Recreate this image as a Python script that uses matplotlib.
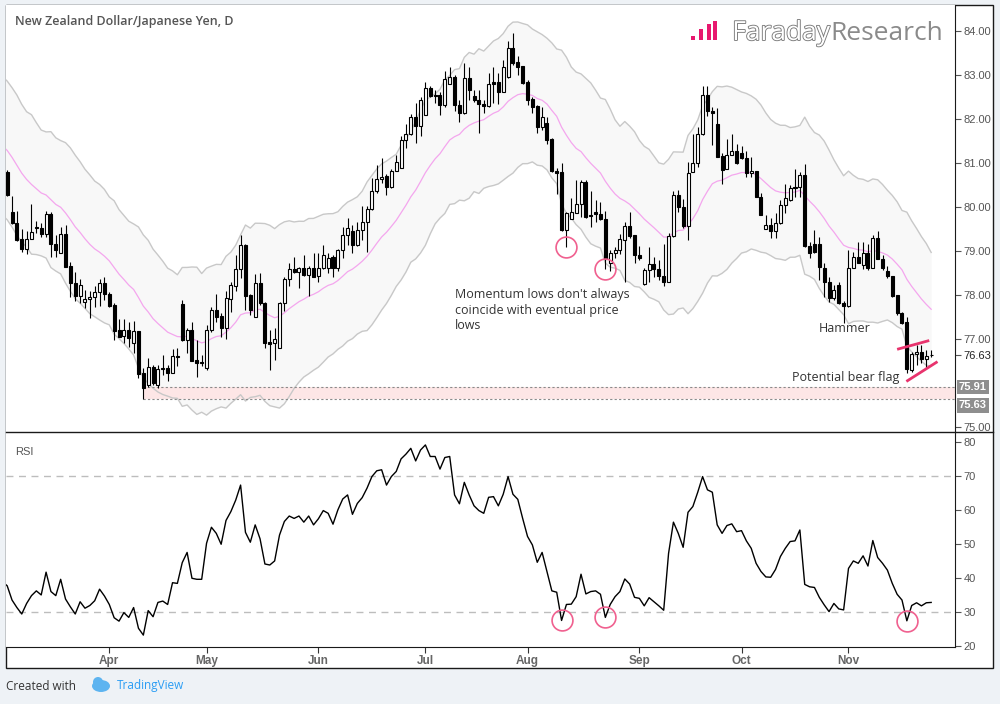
import numpy as np
import pandas as pd
import matplotlib
matplotlib.use("Agg")
import matplotlib.pyplot as plt
import matplotlib.patheffects as pe
import matplotlib.transforms as mtransforms
from matplotlib.patches import Rectangle, Ellipse
from matplotlib.lines import Line2D

# NZD/JPY daily bars, 2 Mar - 24 Nov 2017
dates = pd.bdate_range("2017-03-02", "2017-11-24")

opens = [81.05, 80.81, 79.90, 79.65, 79.28, 79.06, 79.27, 79.56, 79.52, 79.39,
         79.84, 79.17, 78.95, 79.39, 78.67, 78.27, 77.98, 77.85, 77.91, 77.95,
         78.07, 78.27, 78.03, 77.78, 77.21, 77.07, 77.21, 76.92, 77.18, 76.24,
         75.95, 76.36, 75.95, 76.34, 76.34, 76.23, 76.62, 77.80, 76.99, 77.22,
         76.53, 76.49, 76.34, 77.21, 77.66, 77.53, 77.25, 77.91, 78.22, 78.59,
         79.14, 78.01, 77.51, 78.27, 77.83, 76.94, 76.91, 76.79, 77.83, 78.36,
         78.59, 78.52, 78.61, 78.45, 78.63, 78.44, 78.63, 78.61, 78.86, 78.61,
         79.03, 79.37, 79.45, 79.14, 79.48, 79.67, 79.96, 80.38, 80.64, 80.71,
         80.45, 80.83, 80.89, 81.53, 81.66, 82.05, 81.84, 82.10, 82.71, 82.55,
         82.55, 82.33, 82.80, 82.96, 82.33, 82.14, 82.93, 82.53, 82.44, 82.35,
         82.30, 82.84, 82.84, 82.63, 82.97, 83.62, 83.31, 83.21, 82.84, 82.46,
         82.30, 81.82, 81.91, 81.55, 80.83, 80.81, 79.49, 79.73, 79.88, 80.08,
         80.57, 79.83, 79.90, 79.85, 79.73, 78.74, 78.95, 79.03, 79.26, 79.58,
         79.37, 78.92, 78.26, 78.57, 78.72, 78.59, 78.44, 78.31, 79.35, 80.28,
         80.00, 79.58, 80.81, 81.00, 81.67, 82.56, 82.20, 81.90, 81.17, 80.86,
         81.19, 81.28, 81.24, 81.13, 80.77, 80.83, 80.23, 79.50, 79.60, 79.47,
         79.64, 80.05, 80.17, 80.45, 80.45, 80.74, 79.12, 79.17, 79.17, 78.63,
         78.31, 77.93, 78.23, 77.83, 77.76, 78.61, 78.86, 78.69, 78.95, 78.63,
         79.30, 78.82, 78.56, 78.44, 78.01, 77.60, 77.40, 76.29, 76.66, 76.72,
         76.54, 76.64]

highs = [81.15, 80.85, 80.26, 79.92, 79.50, 79.45, 80.08, 79.68, 79.64, 79.92,
         79.90, 79.37, 79.56, 79.60, 78.75, 78.52, 78.38, 78.13, 78.10, 78.22,
         78.37, 78.41, 78.08, 77.83, 77.45, 77.45, 77.40, 77.42, 77.18, 76.34,
         76.57, 76.41, 76.41, 76.64, 76.41, 76.77, 76.79, 77.89, 77.25, 77.40,
         76.98, 76.64, 77.32, 77.74, 78.03, 77.60, 78.10, 78.29, 78.92, 79.37,
         79.17, 78.03, 78.48, 78.50, 77.85, 77.22, 77.25, 77.85, 78.41, 78.73,
         78.86, 78.65, 78.92, 78.67, 78.95, 78.95, 79.14, 78.95, 78.92, 79.05,
         79.56, 79.75, 79.60, 79.67, 80.02, 80.03, 80.66, 80.96, 81.12, 80.76,
         80.86, 81.19, 81.61, 81.90, 82.12, 82.38, 82.50, 82.86, 82.76, 82.67,
         82.63, 83.09, 83.18, 83.01, 82.44, 83.29, 83.20, 82.67, 82.67, 82.44,
         83.05, 83.20, 83.05, 83.35, 83.77, 83.96, 83.43, 83.21, 82.90, 82.50,
         82.33, 82.27, 82.05, 81.57, 80.90, 81.00, 79.90, 80.20, 80.62, 80.62,
         80.62, 80.38, 80.17, 80.13, 79.92, 79.03, 79.10, 79.40, 79.67, 79.90,
         79.37, 79.12, 78.61, 79.09, 78.86, 78.80, 79.17, 79.41, 80.36, 80.39,
         80.18, 81.04, 81.67, 81.82, 82.75, 82.76, 82.28, 82.25, 81.24, 81.55,
         81.67, 81.44, 81.40, 81.28, 81.15, 80.83, 80.33, 79.83, 79.75, 79.88,
         80.17, 80.54, 80.51, 80.86, 80.81, 80.99, 79.22, 79.48, 79.33, 78.73,
         78.42, 78.23, 78.31, 77.88, 79.03, 78.99, 79.22, 79.20, 79.17, 79.37,
         79.47, 78.92, 78.67, 78.44, 78.01, 77.63, 77.51, 76.72, 76.87, 76.87,
         76.76, 76.76]

lows = [80.80, 80.26, 79.62, 79.24, 78.99, 78.93, 79.27, 79.41, 79.33, 79.33,
        78.86, 78.88, 78.95, 78.65, 77.97, 77.87, 77.82, 77.70, 77.48, 77.74,
        77.76, 77.89, 77.74, 76.98, 77.06, 76.91, 76.83, 76.68, 76.11, 75.63,
        75.92, 75.96, 75.88, 76.19, 76.06, 76.23, 76.38, 76.95, 76.68, 76.51,
        76.13, 76.38, 76.29, 77.17, 77.40, 77.04, 77.00, 77.63, 78.10, 78.39,
        77.67, 77.55, 77.51, 77.78, 76.79, 76.29, 76.53, 76.79, 77.65, 78.20,
        78.50, 78.16, 78.44, 77.98, 78.41, 78.31, 78.59, 78.50, 78.41, 78.54,
        78.84, 79.14, 78.97, 79.12, 79.26, 78.99, 79.94, 80.32, 80.56, 80.28,
        80.43, 80.83, 80.89, 81.34, 81.65, 81.46, 81.62, 82.10, 82.50, 82.37,
        82.10, 82.27, 82.80, 82.18, 81.95, 82.12, 82.44, 82.40, 81.70, 82.14,
        82.27, 82.37, 82.35, 82.63, 82.93, 83.24, 83.01, 82.80, 82.33, 82.15,
        81.70, 81.76, 81.44, 80.81, 80.30, 79.47, 79.10, 79.73, 79.86, 79.79,
        79.75, 79.56, 79.67, 79.71, 78.59, 78.54, 78.85, 78.93, 78.31, 79.30,
        78.73, 78.80, 78.23, 78.31, 78.42, 78.35, 78.21, 78.29, 79.33, 79.90,
        79.52, 79.26, 80.81, 80.92, 81.65, 82.08, 81.42, 81.15, 80.53, 80.86,
        81.19, 80.98, 81.09, 80.68, 80.68, 80.23, 79.83, 79.50, 79.30, 79.30,
        79.62, 79.88, 80.15, 80.24, 80.24, 79.10, 78.84, 78.95, 78.35, 77.97,
        77.85, 77.89, 77.80, 77.36, 77.74, 78.61, 78.73, 78.59, 78.57, 78.63,
        78.82, 78.57, 78.39, 77.97, 77.55, 77.35, 76.23, 76.26, 76.41, 76.45,
        76.34, 76.59]

closes = [80.90, 80.28, 79.64, 79.26, 79.05, 79.28, 79.44, 79.52, 79.39, 79.84,
          79.17, 79.03, 79.39, 78.65, 78.27, 77.98, 78.23, 77.91, 77.96, 78.07,
          78.27, 78.03, 77.76, 77.19, 77.06, 77.21, 77.02, 77.18, 76.22, 75.88,
          76.36, 76.01, 76.32, 76.32, 76.23, 76.62, 76.60, 76.98, 77.22, 76.51,
          76.47, 76.47, 77.22, 77.66, 77.51, 77.25, 77.93, 78.23, 78.59, 79.14,
          77.98, 77.66, 78.27, 77.82, 76.92, 76.89, 77.00, 77.83, 78.36, 78.59,
          78.52, 78.61, 78.46, 78.63, 78.42, 78.63, 78.92, 78.84, 78.61, 79.03,
          79.37, 79.52, 79.14, 79.48, 79.67, 79.96, 80.36, 80.64, 80.70, 80.45,
          80.83, 81.02, 81.53, 81.66, 82.05, 81.84, 82.43, 82.71, 82.52, 82.53,
          82.33, 82.91, 82.96, 82.33, 82.14, 82.93, 82.67, 82.44, 82.35, 82.30,
          82.80, 82.80, 82.63, 83.20, 83.62, 83.29, 83.20, 82.82, 82.43, 82.28,
          81.82, 82.05, 81.53, 80.83, 80.79, 79.49, 79.88, 79.90, 80.08, 80.57,
          79.79, 79.80, 79.84, 79.73, 78.82, 78.95, 79.03, 79.27, 79.58, 79.35,
          78.92, 78.84, 78.58, 78.72, 78.59, 78.44, 78.29, 79.35, 80.28, 80.00,
          79.58, 80.79, 81.00, 81.67, 82.56, 82.18, 82.15, 81.15, 80.85, 81.19,
          81.28, 81.00, 81.12, 80.77, 80.83, 80.23, 79.83, 79.60, 79.47, 79.65,
          80.05, 80.20, 80.43, 80.43, 80.74, 79.12, 78.95, 78.99, 78.65, 78.31,
          77.93, 78.13, 77.82, 77.76, 78.61, 78.86, 78.73, 78.95, 78.61, 79.30,
          78.82, 78.63, 78.44, 77.98, 77.59, 77.36, 76.32, 76.66, 76.72, 76.54,
          76.62, 76.63]

rsi = [39.0, 37.8, 33.6, 31.4, 29.5, 32.6, 34.9, 36.3, 35.1, 41.8,
       36.1, 34.9, 39.7, 33.9, 31.6, 29.5, 33.1, 31.2, 32.0, 33.4,
       36.8, 34.8, 32.3, 28.4, 27.4, 29.9, 28.5, 31.4, 25.3, 23.3,
       30.5, 28.7, 32.9, 33.3, 32.3, 38.7, 38.5, 44.6, 47.6, 40.0,
       39.7, 39.7, 50.3, 55.0, 53.2, 50.0, 57.0, 59.6, 63.0, 67.4,
       53.5, 50.6, 55.7, 51.6, 44.2, 43.9, 45.1, 52.7, 56.7, 58.3,
       57.6, 58.3, 56.5, 58.3, 55.7, 57.5, 59.9, 59.1, 55.9, 60.1,
       63.3, 64.5, 58.8, 62.0, 63.7, 66.5, 69.9, 71.6, 71.9, 67.4,
       69.9, 71.4, 75.1, 76.5, 78.2, 74.5, 77.7, 79.2, 75.8, 75.8,
       72.1, 75.5, 75.8, 64.5, 61.9, 68.2, 64.5, 61.3, 59.9, 59.1,
       63.8, 64.0, 61.3, 64.7, 69.9, 64.7, 63.2, 57.6, 52.3, 49.8,
       44.7, 47.6, 42.0, 36.3, 35.9, 27.6, 32.3, 32.4, 34.6, 41.2,
       35.4, 36.1, 36.3, 35.3, 28.5, 32.3, 34.6, 36.1, 39.8, 38.3,
       34.4, 34.1, 31.9, 34.3, 33.1, 31.9, 30.6, 47.3, 56.5, 53.2,
       49.1, 59.4, 61.1, 65.3, 69.9, 66.0, 65.3, 55.7, 53.2, 55.5,
       56.0, 53.7, 54.0, 51.0, 48.8, 44.4, 42.0, 40.4, 40.3, 42.6,
       46.4, 48.8, 50.8, 51.0, 54.2, 38.2, 37.5, 37.3, 34.4, 32.2,
       30.2, 32.6, 31.0, 30.7, 42.9, 45.1, 44.4, 46.6, 43.6, 51.1,
       46.1, 44.4, 42.4, 38.5, 35.3, 33.6, 27.5, 32.0, 32.8, 31.9,
       32.8, 32.9]

# channel (20 EMA +/- 2.5 x average true range), values at the left edge
channel_len = 20
channel_mult = 2.5
mid_start = 81.40
atr_start = 0.63

# 76.00 is hidden under the level labels in the original
price_ticks = [75, 77, 78, 79, 80, 81, 82, 83, 84]
rsi_ticks = [20, 30, 40, 50, 60, 70, 80]
zone_lo, zone_hi = 75.63, 75.91
last_price = 76.63
price_circles = [116, 124]      # bars with circled lows
rsi_circles = [115, 124, 186]
flag_upper = ([184.0, 190.6], [76.77, 76.97])
flag_lower = ([185.9, 192.3], [76.04, 76.49])

W, H = 1000, 704
def fx(px):
    return px / W
def fy(py):
    return 1 - py / H

x = np.arange(len(closes))
o = np.array(opens); h = np.array(highs); l = np.array(lows); c = np.array(closes)

# keltner style channel
alpha = 2.0 / (channel_len + 1)
mid = np.empty(len(c)); atr = np.empty(len(c))
mid[0] = mid_start; atr[0] = atr_start
for i in range(1, len(c)):
    tr = max(h[i] - l[i], abs(h[i] - c[i - 1]), abs(l[i] - c[i - 1]))
    mid[i] = mid[i - 1] + alpha * (c[i] - mid[i - 1])
    atr[i] = atr[i - 1] + alpha * (tr - atr[i - 1])
upper = mid + channel_mult * atr
lower = mid - channel_mult * atr

fig = plt.figure(figsize=(10, 7.04), dpi=100)
fig.patch.set_facecolor('#eef2f6')
card = Rectangle((fx(6), fy(668)), fx(993) - fx(6), fy(5) - fy(668),
                 transform=fig.transFigure, facecolor='white', edgecolor='#1a1a1a', lw=1, zorder=-5)
fig.add_artist(card)

ax1 = fig.add_axes([fx(6), fy(432), fx(955) - fx(6), fy(5) - fy(432)])
ax2 = fig.add_axes([fx(6), fy(647), fx(955) - fx(6), fy(432) - fy(647)])
xmin, xmax = 0.76, 195.9

# price panel
ax1.fill_between(x, lower, upper, color='#f8f8f8', lw=0, zorder=1)
ax1.plot(x, upper, color='#c8c8c8', lw=1, zorder=2)
ax1.plot(x, lower, color='#c8c8c8', lw=1, zorder=2)
ax1.plot(x, mid, color='#f4a6ee', lw=0.9, zorder=2)

zstart = int(np.argmin(l))
ax1.fill_between([zstart, xmax + 1], zone_lo, zone_hi, color='#fde6e6', lw=0, zorder=1.5)
ax1.hlines([zone_lo, zone_hi], zstart, xmax + 1, colors='#8a8a8a', linestyles=(0, (2, 2)), lw=0.8, zorder=2)

ax1.vlines(x, l, h, color='black', lw=0.8, zorder=3)
up = c >= o
body_lo = np.minimum(o, c)
body_h = np.maximum(np.abs(c - o), 0.015)
ax1.bar(x[up], body_h[up], bottom=body_lo[up], width=0.62, color='white', edgecolor='black', lw=0.8, zorder=4)
ax1.bar(x[~up], body_h[~up], bottom=body_lo[~up], width=0.62, color='black', edgecolor='black', lw=0.8, zorder=4)

ax1.plot(x[price_circles], l[price_circles], 'o', ms=15, mfc='none', mec='#f0608f', mew=1.2, zorder=5)
ax1.plot(*flag_upper, color='#e8336d', lw=2, zorder=5, solid_capstyle='butt')
ax1.plot(*flag_lower, color='#e8336d', lw=2, zorder=5, solid_capstyle='butt')

ann_font = dict(family='Open Sans', fontsize=9, color='#333333')
ax1.text(93.0, 78.16, "Momentum lows don't always\ncoincide with eventual price\nlows",
         va='top', ha='left', linespacing=1.25, **ann_font)
ax1.text(173.2, 77.25, "Hammer", ha='center', va='center', **ann_font)
ax1.text(173.5, 76.12, "Potential bear flag", ha='center', va='center', **ann_font)

ax1.set_xlim(xmin, xmax)
ax1.set_ylim(74.89, 84.60)
ax1.yaxis.tick_right()
ax1.set_yticks(price_ticks + [last_price])
ax1.set_yticklabels(['%.2f' % t for t in price_ticks + [last_price]], family='Liberation Sans')
ax1.tick_params(axis='y', direction='out', length=4, width=0.8, color='#555555',
                labelsize=8, labelcolor='#555555', pad=2)
ax1.get_yticklabels()[-1].set_color('#222222')
ax1.set_xticks([])
for s in ['top', 'left', 'bottom']:
    ax1.spines[s].set_visible(False)
ax1.spines['right'].set_color('#1a1a1a')

# right-axis level labels
lab_x = mtransforms.blended_transform_factory(ax1.transAxes, ax1.transData)
ax1.text(1.004, zone_hi, '%.2f' % zone_hi, transform=lab_x, ha='left', va='center', fontsize=8,
         family='Liberation Sans', weight='bold', color='white', clip_on=False,
         bbox=dict(boxstyle='square,pad=0.2', fc='#8e8e8e', ec='none'))
lo_tr = mtransforms.offset_copy(lab_x, fig=fig, y=-6, units='dots')
ax1.text(1.004, zone_lo, '%.2f' % zone_lo, transform=lo_tr, ha='left', va='center', fontsize=8,
         family='Liberation Sans', weight='bold', color='white', clip_on=False,
         bbox=dict(boxstyle='square,pad=0.2', fc='#8e8e8e', ec='none'))

# RSI panel
ax2.axhline(70, color='#bdbdbd', lw=1, dashes=(5, 4))
ax2.axhline(30, color='#bdbdbd', lw=1, dashes=(5, 4))
ax2.plot(x, rsi, color='black', lw=1)
rsi_arr = np.array(rsi)
ax2.plot(x[rsi_circles], rsi_arr[rsi_circles], 'o', ms=15, mfc='none', mec='#f0608f', mew=1.2, zorder=5)
ax2.text((15 - 6) / 949, (647 - 452) / 215, 'RSI', transform=ax2.transAxes, fontsize=8,
         family='Liberation Sans', color='#555555', va='center')
ax2.set_xlim(xmin, xmax)
ax2.set_ylim(19.8, 83.0)
ax2.yaxis.tick_right()
ax2.set_yticks(rsi_ticks)
ax2.set_yticklabels([str(t) for t in rsi_ticks], family='Liberation Sans')
ax2.tick_params(axis='y', direction='out', length=4, width=0.8, color='#555555',
                labelsize=8, labelcolor='#555555', pad=2)

months = dates.to_period('M')
tick_pos = [int(np.argmax(months == m)) for m in months.unique()[1:]]
ax2.set_xticks(tick_pos)
ax2.set_xticklabels([dates[i].strftime('%b') for i in tick_pos], family='Liberation Sans', weight='bold')
ax2.tick_params(axis='x', direction='out', length=4, width=0.8, color='#333333',
                labelsize=8.5, labelcolor='#666666', pad=2)
for s in ['left', 'top']:
    ax2.spines[s].set_visible(False)
for s in ['right', 'bottom']:
    ax2.spines[s].set_color('#1a1a1a')

# separator running through the axis column
fig.add_artist(Line2D([fx(6), fx(993)], [fy(432), fy(432)], transform=fig.transFigure, color='#1a1a1a', lw=1))

# header
fig.text(fx(15), fy(22), 'New Zealand Dollar/Japanese Yen, D', family='Open Sans', weight='semibold',
         fontsize=9, color='#555555', va='center')
for bx, top in [(690.7, 35.7), (699.0, 29.3), (706.5, 24.0), (712.5, 20.7)]:
    fig.add_artist(Rectangle((fx(bx), fy(40)), fx(4.3), fy(top) - fy(40), transform=fig.transFigure,
                             facecolor='#e8186f', edgecolor='none'))
fig.text(fx(830), fy(40), 'Faraday', family='Open Sans', fontsize=19, color='white', ha='right', va='baseline',
         path_effects=[pe.Stroke(linewidth=1.3, foreground='#7a7a7a'), pe.Normal()])
fig.text(fx(830), fy(40), 'Research', family='Open Sans', fontsize=19, color='#8a8a8a', ha='left', va='baseline')

# footer
fig.text(fx(6), fy(686), 'Created with', family='Open Sans', fontsize=8.5, color='#333333', va='center')
fig.add_artist(Ellipse((fx(101), fy(686)), fx(18), fy(680) - fy(692), transform=fig.transFigure,
                       facecolor='#5db4f0', edgecolor='none'))
fig.add_artist(Ellipse((fx(98), fy(682)), fx(10), fy(677) - fy(687), transform=fig.transFigure,
                       facecolor='#5db4f0', edgecolor='none'))
fig.text(fx(117), fy(686), 'TradingView', family='Open Sans', fontsize=8.5, color='#2a9df4', va='center')

fig.savefig('out.png', dpi=100, facecolor=fig.get_facecolor())
